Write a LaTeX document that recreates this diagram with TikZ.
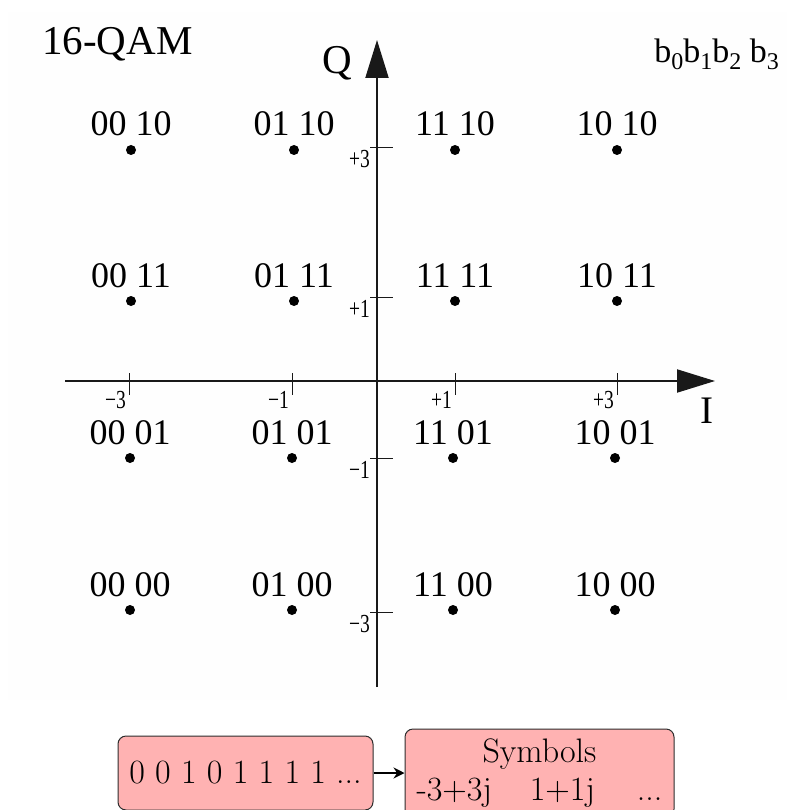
\documentclass[tikz,border=0pt]{standalone}
\usepackage{fontspec}
\newfontfamily\tnr{Liberation Serif}
\usetikzlibrary{arrows.meta}

\definecolor{planebg}{RGB}{254,254,254}
\definecolor{boxfill}{RGB}{255,178,178}
\definecolor{boxline}{RGB}{45,45,45}
\definecolor{axisline}{RGB}{25,25,25}

\newcommand{\bsub}[1]{b\raisebox{-7pt}{\fontsize{24}{24}\selectfont #1}}

\tikzset{
  axis/.style={line width=2pt, draw=axisline, -{Triangle[length=38pt,width=23pt]}},
  tickmark/.style={line width=1pt, draw=axisline},
  ticklabel/.style={font=\tnr\fontsize{26}{26}\selectfont, inner sep=0pt, anchor=base east},
  pointdot/.style={circle, fill=black, inner sep=0pt, minimum size=10pt},
  pointlabel/.style={font=\tnr\fontsize{36}{36}\selectfont, inner sep=0pt, anchor=base},
  bigtext/.style={font=\tnr\fontsize{41}{41}\selectfont, inner sep=0pt},
  databox/.style={draw=boxline, line width=1pt, fill=boxfill, rounded corners=8pt,
                  inner sep=0pt, font=\fontsize{34}{38}\selectfont, align=center},
  flow/.style={line width=1.6pt, -{Stealth[length=11pt,width=11pt]}}
}

\begin{document}
\begin{tikzpicture}[x=1pt, y=-1pt]
  \useasboundingbox (0,0) rectangle (787,810);
  \clip (0,0) rectangle (787,810);

  % light backdrop of the constellation plane
  \fill[planebg] (8,12) rectangle (787,700);

  % axes
  \coordinate (iStart) at (65,381);
  \coordinate (iEnd) at (715,381);
  \coordinate (qStart) at (377,687);
  \coordinate (qEnd) at (377,40);
  \draw[axis] (iStart) -- (iEnd);
  \draw[axis] (qStart) -- (qEnd);

  % ticks on the I axis
  \foreach \tx/\tl [count=\k] in {129/{−3}, 292/{−1}, 455/{+1}, 617/{+3}} {
    \coordinate (it\k a) at (\tx,373);
    \coordinate (it\k b) at (\tx,395);
    \draw[tickmark] (it\k a) -- (it\k b);
    \node[ticklabel] (itl\k) at (\tx-3,408) {\scalebox{0.75}[1]{\tl}};
  }

  % ticks on the Q axis
  \foreach \ty/\tl [count=\k] in {148/{+3}, 297/{+1}, 458/{−1}, 612/{−3}} {
    \coordinate (qt\k a) at (370,\ty);
    \coordinate (qt\k b) at (393,\ty);
    \draw[tickmark] (qt\k a) -- (qt\k b);
    \node[ticklabel] (qtl\k) at (370,\ty+20) {\scalebox{0.75}[1]{\tl}};
  }

  % axis names, title and bit order
  \node[bigtext, anchor=base west] (title) at (42,55) {16-QAM};
  \node[bigtext, anchor=base] (qname) at (337,74) {Q};
  \node[bigtext, anchor=base, font=\tnr\fontsize{39}{39}\selectfont] (iname) at (707,423) {I};
  \node[inner sep=0pt, anchor=base east, font=\tnr\fontsize{34}{34}\selectfont] (bits)
    at (779,63) {\bsub{0}\bsub{1}\bsub{2} \bsub{3}};

  % constellation points with their Gray-coded labels
  \foreach \py/\xa/\xb/\xc/\xd/\lb [count=\r] in {
      150/131/294/455/617/10,
      301/131/294/455/617/11,
      458/130/292/453/615/01,
      610/130/292/453/615/00} {
    \foreach \px/\la [count=\c] in {\xa/00, \xb/01, \xc/11, \xd/10} {
      \node[pointdot] (p\r\c) at (\px,\py) {};
      \node[pointlabel] (l\r\c) at (\px,\py-14) {\la\ \lb};
    }
  }

  % bit stream mapped onto symbols
  \node[databox, minimum width=255pt, minimum height=74pt] (stream) at (245.5,773)
    {0 0 1 0 1 1 1 1 ...};
  \node[databox, minimum width=269pt, minimum height=88pt] (symbols) at (539.5,773)
    {Symbols\\-3+3j\hspace{38pt}1+1j\hspace{42pt}...};
  \draw[flow] (stream.east) -- (symbols.west);
\end{tikzpicture}
\end{document}
